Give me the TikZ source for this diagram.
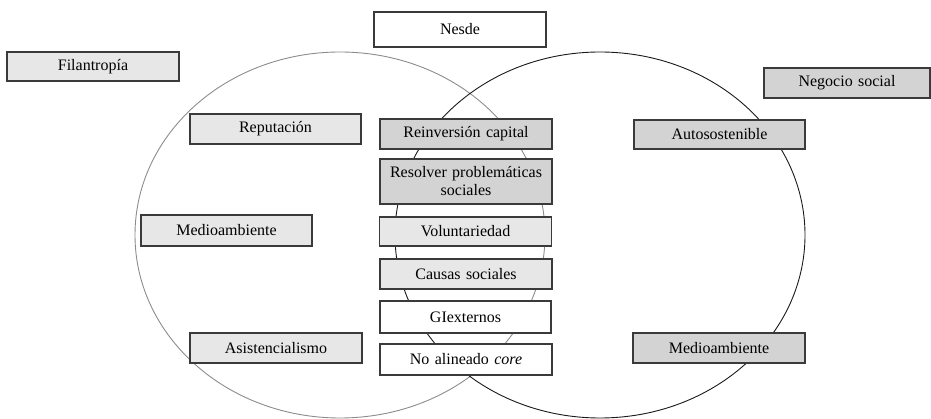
\documentclass[tikz,border=0pt]{standalone}
\usepackage{fontspec}
\setmainfont{Liberation Serif}
\definecolor{lightbox}{HTML}{E7E7E8}
\definecolor{darkbox}{HTML}{D3D3D4}
\definecolor{boxline}{HTML}{3A3A3A}
\definecolor{greyring}{HTML}{8C8C8C}
\definecolor{blackring}{HTML}{1A1A1A}
\begin{document}
\begin{tikzpicture}[x=1pt,y=-1pt,
  box/.style={draw=boxline,line width=1.2pt,rectangle,inner sep=0pt,minimum height=30pt,
    text width=165pt,align=center,font=\fontsize{16}{18}\selectfont},
  lightb/.style={box,fill=lightbox},
  darkb/.style={box,fill=darkbox},
  whiteb/.style={box,fill=white}]
\useasboundingbox (0,0) rectangle (931,419);
\draw[greyring,line width=0.9pt] (340,235) ellipse [x radius=205,y radius=183];
\draw[blackring,line width=0.9pt] (600,235) ellipse [x radius=205,y radius=183];

\node[whiteb,minimum width=172pt,minimum height=35pt] (nesde) at (460,29.5) {Nesde};
\node[lightb,minimum width=172pt,minimum height=29pt] (fil) at (93,66.5) {Filantropía};
\node[darkb,minimum width=166pt] (neg) at (847,83) {Negocio social};
\node[lightb,minimum width=171pt] (rep) at (275.5,129) {Reputación};
\node[darkb,minimum width=172pt] (rein) at (466,134) {Reinversión capital};
\node[darkb,minimum width=172pt,minimum height=45pt] (res) at (466,181.5) {Resolver problemáticas\\ sociales};
\node[darkb,minimum width=171pt,minimum height=29pt] (auto) at (719.5,134.5) {Autosostenible};
\node[lightb,minimum width=171pt,minimum height=31pt] (med1) at (226.5,230.5) {Medioambiente};
\node[lightb,minimum width=172pt,minimum height=29pt] (vol) at (465.5,231.5) {Voluntariedad};
\node[lightb,minimum width=172pt] (cau) at (466,274) {Causas sociales};
\node[whiteb,minimum width=171pt,minimum height=32pt] (gie) at (465.5,317) {GIexternos};
\node[lightb,minimum width=172pt] (asi) at (276,348) {Asistencialismo};
\node[whiteb,minimum width=172pt,minimum height=31pt] (noal) at (466,359.5) {No alineado \textit{core}};
\node[darkb,minimum width=172pt] (med2) at (719,348) {Medioambiente};
\end{tikzpicture}
\end{document}
